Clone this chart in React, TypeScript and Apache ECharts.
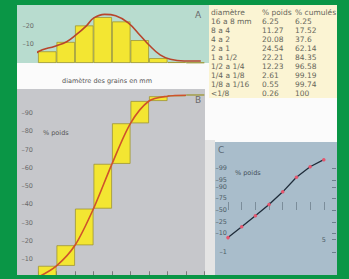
import React, { useEffect, useRef } from "react";
import * as echarts from "echarts";

// ---------- data ----------
const tableHeader = ["diamètre", "% poids", "% cumulés"];
const sizeClasses = ["16 a 8 mm", "8 a 4", "4 a 2", "2 a 1", "1 a 1/2", "1/2 a 1/4", "1/4 a 1/8", "1/8 a 1/16", "<1/8"];
const pctWeight = [6.25, 11.27, 20.08, 24.54, 22.21, 12.23, 2.61, 0.55, 0.26];
const pctCumul = [6.25, 17.52, 37.6, 62.14, 84.35, 96.58, 99.19, 99.74, 100];
// smooth frequency curve of panel A: [class position, %]
const curveA: number[][] = [
  [-0.52, 0.3], [0, 6], [0.92, 9], [1.55, 11.4], [2.05, 15], [2.63, 20], [3.0, 24],
  [3.6, 26], [4.2, 25.3], [4.88, 21.5], [5.5, 15], [6.0, 9.6], [6.6, 4.3], [7.15, 2],
  [7.9, 1.1], [8.8, 1.1],
];
const ticksA = [10, 20];
const ticksB = [10, 20, 30, 40, 50, 60, 70, 80, 90];
const probLabelsLeft = [1, 10, 25, 50, 75, 90, 95, 99];
const probTicksRight = [1, 5, 10, 25, 50, 75, 90, 95, 99];
const probLabelsRight = [5];
const panelLetters = ["A", "B", "C"];
const axisTitleA = "diamètre des grains en mm";
const yTitle = "% poids";

// inverse standard normal CDF (probability-paper scale)
function probit(p: number): number {
  const a = [-39.69683028665376, 220.9460984245205, -275.9285104469687, 138.357751867269, -30.66479806614716, 2.506628277459239];
  const b = [-54.47609879822406, 161.5858368580409, -155.6989798598866, 66.80131188771972, -13.28068155288572];
  const c = [-0.007784894002430293, -0.3223964580411365, -2.400758277161838, -2.549732539343734, 4.374664141464968, 2.938163982698783];
  const d = [0.007784695709041462, 0.3224671290700398, 2.445134137142996, 3.754408661907416];
  const pl = 0.02425;
  if (p < pl) {
    const q = Math.sqrt(-2 * Math.log(p));
    return (((((c[0] * q + c[1]) * q + c[2]) * q + c[3]) * q + c[4]) * q + c[5]) / ((((d[0] * q + d[1]) * q + d[2]) * q + d[3]) * q + 1);
  }
  if (p > 1 - pl) {
    const q = Math.sqrt(-2 * Math.log(1 - p));
    return -(((((c[0] * q + c[1]) * q + c[2]) * q + c[3]) * q + c[4]) * q + c[5]) / ((((d[0] * q + d[1]) * q + d[2]) * q + d[3]) * q + 1);
  }
  const q = p - 0.5;
  const r = q * q;
  return ((((((a[0] * r + a[1]) * r + a[2]) * r + a[3]) * r + a[4]) * r + a[5]) * q) / (((((b[0] * r + b[1]) * r + b[2]) * r + b[3]) * r + b[4]) * r + 1);
}
const pctFromZ = (z: number, list: number[]) => {
  for (const p of list) if (Math.abs(probit(p / 100) - z) < 1e-6) return p;
  return null;
};

const FONT = '"DejaVu Sans", sans-serif';
const GREY = "#6a6a6a";

export default function App() {
  const ref = useRef<HTMLDivElement>(null);
  useEffect(() => {
    if (!ref.current) return;
    const chart = echarts.init(ref.current, null, { renderer: "svg" });

    const txt = (text: string, x: number, y: number, size: number, fill = GREY, align = "left") => ({
      type: "text",
      x,
      y,
      z: 50,
      silent: true,
      style: { text, fill, font: `${size}px ${FONT}`, align, verticalAlign: "middle", textAlign: align, textVerticalAlign: "middle" },
    });
    const rect = (x: number, y: number, w: number, h: number, fill: string, z: number) => ({
      type: "rect",
      z,
      silent: true,
      shape: { x, y, width: w, height: h },
      style: { fill },
    });

    const colX = [211, 262, 295];
    const tableRows: string[][] = [
      tableHeader,
      ...sizeClasses.map((s, i) => [s, String(pctWeight[i]), String(pctCumul[i])]),
    ];
    const tableTexts: any[] = [];
    tableRows.forEach((row, r) =>
      row.forEach((cell, c) => tableTexts.push(txt(cell, colX[c], 12.5 + 9 * r, 7.5, "#66665a")))
    );

    const green = "#0a9646";
    const graphics: any[] = [
      rect(17, 5, 192, 58, "#b8dccf", -10),
      rect(209, 5, 128, 93, "#fbf4d3", -10),
      rect(17, 89, 188, 186, "#c6c7cb", -10),
      rect(205, 140, 10, 135, "#e4e4e4", -10),
      rect(215, 142, 122, 133, "#a9bdcb", -10),
      ...tableTexts,
      txt(panelLetters[0], 195, 15, 9),
      txt(panelLetters[1], 195, 100, 9),
      txt(panelLetters[2], 218, 150, 9, "#5d6b76"),
      txt(axisTitleA, 107, 81, 6.5, "#555555", "center"),
      txt(yTitle, 43, 133, 6.5, "#555555"),
      txt(yTitle, 235, 173, 6.5, "#44505a"),
      rect(0, 0, 17, 279, green, 100),
      rect(0, 0, 349, 5, green, 100),
      rect(337, 0, 12, 279, green, 100),
      rect(0, 275, 349, 4, green, 100),
    ];

    const labelStyle = { fontSize: 6.5, color: GREY, fontFamily: FONT };

    const option: any = {
      animation: false,
      backgroundColor: "#fbfbfb",
      graphic: { elements: graphics },
      grid: [
        { left: 38, top: 5, width: 166.5, height: 58 },
        { left: 38, top: 94.75, width: 166.5, height: 182.5 },
        { left: 228, top: 147, width: 104, height: 126 },
      ],
      xAxis: [
        { type: "value", gridIndex: 0, min: 0, max: 9, show: false },
        {
          type: "category", gridIndex: 1, data: sizeClasses, boundaryGap: true,
          axisLine: { show: false },
          axisTick: { show: true, inside: true, length: 6, interval: 0, lineStyle: { color: "#7a7a7a", width: 1 } },
          axisLabel: { show: false },
          splitLine: { show: false },
        },
        {
          type: "value", gridIndex: 2, min: 0, max: 7.6,
          axisLine: { show: false },
          axisTick: { show: true, inside: true, length: 8, customValues: pctCumul.slice(0, 8).map((_, i) => i), lineStyle: { color: "#7b8d9a", width: 1 } },
          axisLabel: { show: false },
          splitLine: { show: false },
        },
        { type: "value", gridIndex: 1, min: 0, max: 9, show: false },
      ],
      yAxis: [
        {
          type: "value", gridIndex: 0, min: 0, max: 31, interval: 10,
          axisLine: { show: false }, axisTick: { show: false }, splitLine: { show: false },
          axisLabel: { ...labelStyle, margin: 4, formatter: (v: number) => (ticksA.includes(v) ? "–" + v : "") },
        },
        {
          type: "value", gridIndex: 1, min: 0, max: 100, interval: 10,
          axisLine: { show: false }, axisTick: { show: false }, splitLine: { show: false },
          axisLabel: { ...labelStyle, margin: 5, formatter: (v: number) => (ticksB.includes(v) ? "–" + v : "") },
        },
        {
          type: "value", gridIndex: 2, min: -3.5, max: 3.5, position: "left",
          axisLine: { show: false }, axisTick: { show: false }, splitLine: { show: false },
          axisLabel: {
            ...labelStyle, color: "#4f5d68", margin: 1,
            customValues: probLabelsLeft.map((p) => probit(p / 100)),
            formatter: (v: number) => {
              const p = pctFromZ(v, probLabelsLeft);
              return p === null ? "" : "–" + p;
            },
          },
        },
        {
          type: "value", gridIndex: 2, min: -3.5, max: 3.5, position: "right",
          axisLine: { show: false }, splitLine: { show: false },
          axisTick: { show: true, length: 4, customValues: probTicksRight.map((p) => probit(p / 100)), lineStyle: { color: "#6d7f8c", width: 1 } },
          axisLabel: {
            ...labelStyle, color: "#4f5d68", inside: true, margin: 6,
            customValues: probLabelsRight.map((p) => probit(p / 100)),
            formatter: (v: number) => {
              const p = pctFromZ(v, probLabelsRight);
              return p === null ? "" : String(p);
            },
          },
        },
      ],
      series: [
        {
          type: "bar", xAxisIndex: 0, yAxisIndex: 0, barWidth: "100%",
          data: pctWeight.map((v, i) => [i + 0.5, v]),
          itemStyle: { color: "#f3e632", borderColor: "#9e9634", borderWidth: 0.8 },
        },
        {
          type: "line", xAxisIndex: 0, yAxisIndex: 0, data: curveA, smooth: 0.4, clip: false,
          symbol: "none", lineStyle: { color: "#b8452c", width: 1.6 }, z: 5,
        },
        {
          type: "bar", xAxisIndex: 1, yAxisIndex: 1, barWidth: "100%", stack: "cum",
          data: pctWeight.map((_, i) => (i === 0 ? 0 : pctCumul[i - 1])),
          itemStyle: { color: "rgba(0,0,0,0)" }, silent: true,
        },
        {
          type: "bar", xAxisIndex: 1, yAxisIndex: 1, barWidth: "100%", stack: "cum",
          data: pctWeight,
          itemStyle: { color: "#f3e632", borderColor: "#9e9634", borderWidth: 0.8 },
        },
        {
          type: "line", xAxisIndex: 3, yAxisIndex: 1, smooth: 0.3, clip: false, symbol: "none",
          data: [[0, 0], ...pctCumul.slice(0, 8).map((v, i) => [i + 1, v])],
          lineStyle: { color: "#cf522b", width: 1.6 }, z: 5,
        },
        {
          type: "line", xAxisIndex: 2, yAxisIndex: 2, clip: false,
          data: pctCumul.slice(0, 8).map((v, i) => [i, probit(v / 100)]),
          symbol: "circle", symbolSize: 3.5,
          itemStyle: { color: "#e4566e" },
          lineStyle: { color: "#1f2c3a", width: 1.3 },
        },
      ],
    };
    chart.setOption(option);
    return () => chart.dispose();
  }, []);
  return <div ref={ref} style={{ position: "fixed", left: 0, top: 0, width: 349, height: 279 }} />;
}
